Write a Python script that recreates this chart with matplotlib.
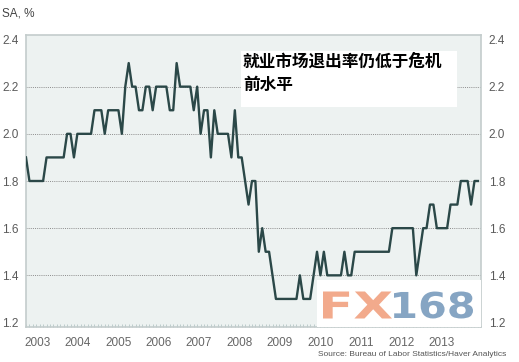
import numpy as np
import matplotlib
matplotlib.use('Agg')
import matplotlib.pyplot as plt
from matplotlib.patches import Rectangle, PathPatch
from matplotlib.textpath import TextPath
from matplotlib.font_manager import FontProperties
from matplotlib.transforms import Affine2D, IdentityTransform

# monthly exit rate, %, SA
rate = [1.9,
        1.8, 1.8, 1.8, 1.8, 1.8,
        1.9, 1.9, 1.9, 1.9, 1.9, 1.9,
        2.0, 2.0, 1.9, 2.0, 2.0, 2.0, 2.0, 2.0,
        2.1, 2.1, 2.1, 2.0, 2.1, 2.1, 2.1, 2.1, 2.0,
        2.2, 2.3, 2.2, 2.2, 2.1, 2.1, 2.2, 2.2, 2.1,
        2.2, 2.2, 2.2, 2.2, 2.1, 2.1, 2.3,
        2.2, 2.2, 2.2, 2.2, 2.1, 2.2, 2.0, 2.1, 2.1, 1.9, 2.1,
        2.0, 2.0, 2.0, 2.0, 1.9, 2.1, 1.9, 1.9,
        1.8, 1.7, 1.8, 1.8, 1.5, 1.6, 1.5, 1.5, 1.4,
        1.3, 1.3, 1.3, 1.3, 1.3, 1.3, 1.3, 1.4, 1.3, 1.3, 1.3,
        1.4, 1.5, 1.4, 1.5, 1.4, 1.4, 1.4, 1.4, 1.4, 1.5, 1.4, 1.4,
        1.5, 1.5, 1.5, 1.5, 1.5, 1.5, 1.5, 1.5, 1.5, 1.5, 1.5,
        1.6, 1.6, 1.6, 1.6, 1.6, 1.6, 1.6,
        1.4, 1.5, 1.6, 1.6, 1.7, 1.7, 1.6, 1.6, 1.6, 1.6,
        1.7, 1.7, 1.7, 1.8, 1.8, 1.8, 1.7, 1.8, 1.8]

years = ['2003', '2004', '2005', '2006', '2007', '2008',
         '2009', '2010', '2011', '2012', '2013']
yticks = [1.2, 1.4, 1.6, 1.8, 2.0, 2.2, 2.4]
grid_levels = [1.4, 1.6, 1.8, 2.0, 2.2]

W, H = 519, 362
def fx(px):
    return px / W
def fy(py):
    return 1 - py / H

fig = plt.figure(figsize=(W / 100, H / 100), dpi=100)
fig.patch.set_facecolor('white')

ax = fig.add_axes([fx(26), fy(327), fx(481) - fx(26), fy(35) - fy(327)])
ax.set_facecolor('#edf2f1')

x = np.arange(len(rate))
ax.plot(x, rate, color='#2b4848', lw=1.7, zorder=3)

ax.set_xlim(0, 132.9)
ax.set_ylim(1.181, 2.419)

for g in grid_levels:
    ax.axhline(g, color='#8c8c8c', lw=0.7, linestyle=(0, (1, 1.2)), zorder=1)

ax.set_yticks(yticks)
ax.set_yticklabels([f'{v:.1f}' for v in yticks])
ax.tick_params(axis='y', left=False, right=False, labelleft=True, labelright=True,
               labelsize=8.5, labelcolor='#5a5a5a', pad=2)
for lab in ax.get_yticklabels():
    lab.set_family('Liberation Sans')

# year labels sit under the middle of each year
label_pos = np.linspace(3.3, 121.4, len(years))
ax.set_xticks(label_pos)
ax.set_xticklabels(years, family='Liberation Sans')
ax.tick_params(axis='x', which='major', length=0, pad=7, labelsize=8.5, labelcolor='#666666')
ax.set_xticks(np.arange(0, 133, 1), minor=True)
ax.tick_params(axis='x', which='minor', direction='in', length=2.5, color='#b4c6c6', width=0.6)

for sp in ax.spines.values():
    sp.set_color('#c3cccc')
    sp.set_linewidth(1.2)

fig.text(fx(2), fy(13), 'SA, %', fontsize=8.5, color='#444444', va='center',
         family='Liberation Sans')

# annotation box
fig.patches.append(Rectangle((fx(241), fy(107)), fx(457) - fx(241), fy(51) - fy(107),
                             transform=fig.transFigure, facecolor='white',
                             edgecolor='none', zorder=5))
fig.text(fx(243), fy(53), '就业市场退出率仍低于危机\n前水平', fontsize=12,
         fontweight='bold', family=['Noto Sans CJK SC', 'DejaVu Sans'],
         va='top', ha='left', linespacing=1.35, color='black', zorder=6)

# FX168 watermark, stretched into its box (pixel coords, y down)
fig.patches.append(Rectangle((fx(316.5), fy(327)), fx(481) - fx(316.5), fy(280) - fy(327),
                             transform=fig.transFigure, facecolor='white',
                             edgecolor='none', zorder=5))
wm_font = FontProperties(family='DejaVu Sans', weight='bold')

def stretched_text(s, x0, x1, ytop, ybot, color):
    tp = TextPath((0, 0), s, size=40, prop=wm_font)
    ext = tp.get_extents()
    sx = (x1 - x0) / ext.width
    sy = (ybot - ytop) / ext.height
    tr = Affine2D().translate(-ext.x0, -ext.y0).scale(sx, sy).translate(x0, H - ybot)
    fig.patches.append(PathPatch(tr.transform_path(tp), transform=IdentityTransform(),
                                 facecolor=color, edgecolor='none', zorder=6))

stretched_text('FX', 323, 392, 291.5, 318.5, '#f2aa8c')
stretched_text('168', 394, 473, 291.5, 318.5, '#86a5c3')

fig.text(fx(506), fy(354), 'Source: Bureau of Labor Statistics/Haver Analytics',
         fontsize=6, color='#555555', ha='right', va='center', family='Liberation Sans')

fig.savefig('out.png', dpi=100)
